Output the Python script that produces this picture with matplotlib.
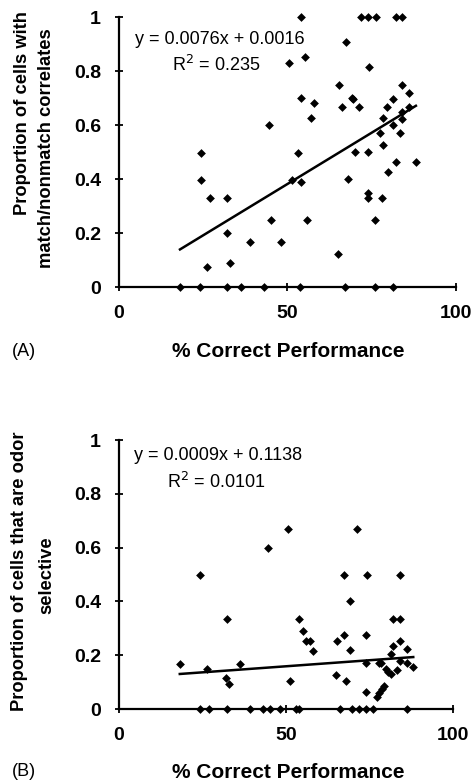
import numpy as np
import matplotlib
matplotlib.use('Agg')
import matplotlib.pyplot as plt

plt.rcParams['font.family'] = ['Liberation Sans', 'DejaVu Sans']

# Panel A: proportion of cells with match/nonmatch correlates
perf_a = [18.1, 24.0, 31.9, 36.2, 42.9, 53.8, 67.0, 75.9, 81.2,
          26.1, 32.9, 65.1, 39.0, 48.2, 32.1, 45.0, 55.9, 76.0,
          27.0, 31.9, 74.0, 78.1, 74.0, 24.2, 51.2, 53.9, 68.0,
          79.9, 82.1, 88.1, 24.3, 53.2, 70.0, 74.0, 78.2, 77.4,
          83.3, 44.4, 81.3, 57.1, 78.2, 84.1, 84.1, 66.1, 71.2,
          79.4, 86.1, 58.0, 81.3, 54.0, 69.2, 69.4, 86.1, 65.3,
          84.1, 74.1, 50.4, 55.2, 67.4, 54.1, 71.9, 74.0, 76.2,
          82.1, 84.1]
prop_a = [0, 0, 0, 0, 0, 0, 0, 0, 0,
          0.075, 0.088, 0.122, 0.168, 0.168, 0.201, 0.248, 0.248, 0.248,
          0.328, 0.328, 0.331, 0.331, 0.349, 0.396, 0.396, 0.39, 0.399,
          0.427, 0.462, 0.462, 0.497, 0.497, 0.499, 0.499, 0.527, 0.571,
          0.571, 0.60, 0.60, 0.625, 0.625, 0.621, 0.649, 0.668, 0.668,
          0.668, 0.668, 0.681, 0.697, 0.70, 0.701, 0.695, 0.717, 0.749,
          0.749, 0.816, 0.828, 0.853, 0.909, 1.0, 1.0, 1.0, 1.0,
          1.0, 1.0]
slope_a, icept_a, r2_a = 0.0076, 0.0016, '0.235'

# Panel B: proportion of odor selective cells
perf_b = [18.2, 24.4, 26.3, 32.2, 36.3, 32.0, 33.0, 44.5, 50.5,
          51.2, 54.0, 55.2, 56.0, 57.3, 58.1, 65.3, 67.3, 69.3,
          74.1, 67.4, 74.2, 84.2, 69.3, 71.4, 82.1, 84.1, 82.1,
          84.1, 86.1, 81.3, 74.1, 77.9, 78.3, 84.1, 86.1, 88.1,
          83.1, 79.9, 80.6, 81.4, 65.1, 67.9, 74.1, 77.1, 77.9,
          78.6, 79.3,
          24.2, 26.9, 32.2, 39.1, 43.0, 45.1, 48.3, 53.1, 54.0,
          66.1, 69.9, 71.9, 73.9, 75.9, 86.1]
prop_b = [0.167, 0.5, 0.15, 0.333, 0.167, 0.115, 0.093, 0.6, 0.67,
          0.104, 0.333, 0.29, 0.253, 0.253, 0.216, 0.253, 0.275, 0.219,
          0.275, 0.5, 0.5, 0.5, 0.4, 0.67, 0.336, 0.336, 0.234,
          0.253, 0.223, 0.203, 0.17, 0.17, 0.172, 0.18, 0.17, 0.155,
          0.145, 0.148, 0.139, 0.13, 0.126, 0.104, 0.062, 0.046, 0.061,
          0.073, 0.086,
          0, 0, 0, 0, 0, 0, 0, 0, 0,
          0, 0, 0, 0, 0, 0]
slope_b, icept_b, r2_b = 0.0009, 0.1138, '0.0101'

W, H = 477, 783
fig = plt.figure(figsize=(W / 100, H / 100), dpi=100)


def px_axes(l, r, t, b):
    return fig.add_axes([l / W, 1 - b / H, (r - l) / W, (b - t) / H])


def draw_panel(ax, x, y, slope, icept, r2, eq_xy, r2_xy):
    x = np.asarray(x)
    ax.scatter(x, y, marker='D', s=20, color='black', zorder=3, clip_on=False, linewidths=0)
    xs = np.array([x.min(), x.max()])
    ax.plot(xs, slope * xs + icept, color='black', lw=1.8)
    sign = '+' if icept >= 0 else '-'
    ax.text(eq_xy[0], eq_xy[1], 'y = %.4fx %s %.4f' % (slope, sign, abs(icept)),
            ha='center', va='center', fontsize=13)
    ax.text(r2_xy[0], r2_xy[1], 'R$^2$ = ' + r2, ha='center', va='center', fontsize=13)
    ax.set_xlim(0, 100)
    ax.set_ylim(0, 1)
    ax.set_xticks([0, 50, 100])
    ax.set_yticks([0, 0.2, 0.4, 0.6, 0.8, 1])
    ax.set_yticklabels(['0', '0.2', '0.4', '0.6', '0.8', '1'])
    for s in ['top', 'right']:
        ax.spines[s].set_visible(False)
    for s in ['left', 'bottom']:
        ax.spines[s].set_linewidth(1.6)
    ax.tick_params(direction='inout', length=6, width=1.3, pad=10, labelsize=14)
    for lab in ax.get_xticklabels() + ax.get_yticklabels():
        lab.set_fontweight('bold')


ax1 = px_axes(119, 456, 17, 287)
draw_panel(ax1, perf_a, prop_a, slope_a, icept_a, r2_a, (29.8, 0.915), (28.8, 0.822))

ax2 = px_axes(119, 453, 440, 709)
draw_panel(ax2, perf_b, prop_b, slope_b, icept_b, r2_b, (29.6, 0.944), (29.0, 0.844))

lab_kw = dict(fontsize=13.2, fontweight='bold', rotation=90, ha='center', va='center')
fig.text(23 / W, 1 - 113 / H, 'Proportion of cells with', **lab_kw)
fig.text(47 / W, 1 - 148 / H, 'match/nonmatch correlates', **lab_kw)
fig.text(20 / W, 1 - 571 / H, 'Proportion of cells that are odor', **lab_kw)
fig.text(47 / W, 1 - 575 / H, 'selective', **lab_kw)

fig.text(288 / W, 1 - 352 / H, '% Correct Performance', fontsize=15, fontweight='bold',
         ha='center', va='center')
fig.text(288 / W, 1 - 772 / H, '% Correct Performance', fontsize=15, fontweight='bold',
         ha='center', va='center')
fig.text(12 / W, 1 - 352 / H, '(A)', fontsize=13, ha='left', va='center')
fig.text(12 / W, 1 - 772 / H, '(B)', fontsize=13, ha='left', va='center')

fig.savefig('out.png', dpi=100)
